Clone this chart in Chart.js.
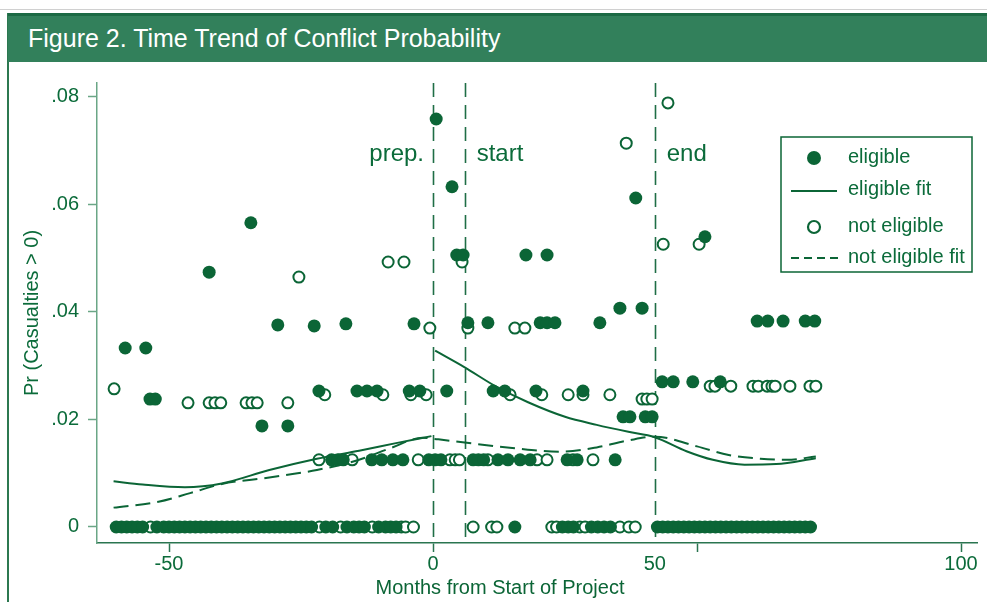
<!DOCTYPE html>
<html>
<head>
<meta charset="utf-8">
<script src="https://cdn.jsdelivr.net/npm/chart.js@4.4.0/dist/chart.umd.min.js"></script>
<style>
html,body{margin:0;padding:0;background:#fff;}
#wrap{position:relative;width:987px;height:602px;overflow:hidden;background:#fff;}
#topline{position:absolute;left:0;top:9px;width:987px;height:1px;background:#d0d0d0;}
#bar{position:absolute;left:8px;top:13px;width:979px;height:49px;background:#32805b;border-top:3px solid #1c6a44;box-sizing:border-box;color:#fff;font:25px 'Liberation Sans',Arial,sans-serif;line-height:45px;padding-left:20px;white-space:nowrap;}
#frame{position:absolute;left:7px;top:13px;width:2px;height:589px;background:#2c7850;}
#xtitle{position:absolute;left:300px;width:400px;top:575px;text-align:center;font:20px 'Liberation Sans',Arial,sans-serif;line-height:24px;color:#0b6536;}
#c{position:absolute;left:0;top:0;}
</style>
</head>
<body>
<div id="wrap">
  <canvas id="c" width="987" height="602"></canvas>
  <div id="topline"></div>
  <div id="frame"></div>
  <div id="bar">Figure 2. Time Trend of Conflict Probability</div>
  <div id="xtitle">Months from Start of Project</div>
</div>
<script>
// ---------- DATA ----------
const xTickValues = [-50, 0, 42, 50, 100];
const xTickLabels = ['-50', '0', '50', '', '100'];
const yTickValues = [0, 0.02, 0.04, 0.06, 0.08];
const yTickLabels = ['0', '.02', '.04', '.06', '.08'];

const phaseMonths = [0, 6, 42];
const phaseLabels = ['prep.', 'start', 'end'];

const legendLabels = ['eligible', 'eligible fit', 'not eligible', 'not eligible fit'];

// eligible, non-zero probabilities [month, Pr]
const eligiblePoints = [
  [-58.3,0.0333],[-54.4,0.0333],[-53.6,0.0238],[-52.6,0.0238],[-42.4,0.0474],[-34.5,0.0566],
  [-32.4,0.0188],[-29.4,0.0376],[-27.5,0.0188],[-22.5,0.0374],[-21.6,0.0253],[-16.5,0.0378],
  [-14.4,0.0253],[-12.5,0.0253],[-10.6,0.0253],[-4.5,0.0253],[-3.6,0.0378],[-2.5,0.0253],
  [-19.2,0.0125],[-18,0.0125],[-17,0.0125],[-11.6,0.0125],[-9.7,0.0125],[-7.6,0.0125],[-5.7,0.0125],
  [-0.8,0.0125],[0.4,0.0125],[1.5,0.0125],
  [0.6,0.0759],[3.6,0.0633],[4.5,0.0506],[5.7,0.0506],[17.6,0.0506],[21.6,0.0506],[38.4,0.0612],[51.5,0.054],
  [35.4,0.0407],[39.6,0.0407],[31.6,0.038],[20.3,0.038],[21.6,0.038],[23.1,0.038],[10.4,0.038],[6.6,0.038],
  [2.6,0.0253],[11.4,0.0253],[13.6,0.0253],[19.5,0.0253],[28.4,0.0253],
  [36,0.0205],[37.3,0.0205],[40.2,0.0205],[41.5,0.0205],
  [7.6,0.0125],[8.6,0.0125],[9.6,0.0125],[12.3,0.0125],[14.2,0.0125],[16.5,0.0125],[18.4,0.0125],
  [25.4,0.0125],[27.3,0.0125],[34.5,0.0125],
  [43.4,0.027],[45.5,0.027],[49.2,0.027],[54.4,0.027],
  [61.4,0.0383],[63.4,0.0383],[66.3,0.0383],[70.5,0.0383],[72.3,0.0383]
];
// eligible months with Pr = 0
const eligibleZeroMonths = [
  -60,-59,-58,-57,-56,-55,-52.3,-51,-50,-49,-48,-47,-46,-45,-44,-43,-42,-41,-40,-39,-38,-37,-36,
  -35,-34,-33,-32,-31,-30,-29,-28,-27,-26,-25,-24,-23,-20.3,-19,-16.3,-15,-14,-13,-10.3,-9,-8,-7,
  15.5,24.5,25.6,26.6,30,31.2,32.4,33.6,
  42.5,43.5,44.5,45.5,46.5,47.5,48.5,49.5,50.5,51.5,52.5,53.5,54.5,55.5,56.5,57.5,58.5,
  59.5,60.5,61.5,62.5,63.5,64.5,65.5,66.5,67.5,68.5,69.5,70.5,71.5
];
// not eligible, non-zero probabilities [month, Pr]
const notEligiblePoints = [
  [-60.4,0.0257],[-46.4,0.0231],[-42.4,0.0231],[-41.3,0.0231],[-40.2,0.0231],[-35.4,0.0231],
  [-34.3,0.0231],[-33.3,0.0231],[-27.5,0.0231],
  [-20.5,0.0246],[-9.5,0.0246],[-4.2,0.0246],[-1.3,0.0246],[-0.6,0.037],
  [-25.4,0.0465],[-8.5,0.0493],[-5.5,0.0493],[5.5,0.0493],[36.6,0.0714],[44.5,0.0789],[43.6,0.0526],[50.4,0.0526],
  [6.6,0.037],[15.5,0.037],[17.4,0.037],
  [14.6,0.0246],[20.6,0.0246],[25.6,0.0246],[28.4,0.0246],[33.5,0.0246],
  [39.6,0.0238],[40.5,0.0238],[41.5,0.0238],
  [52.5,0.0262],[53.4,0.0262],[56.4,0.0262],[60.6,0.0262],[61.6,0.0262],[63.3,0.0262],[64.2,0.0262],
  [64.8,0.0262],[67.6,0.0262],[71.4,0.0262],[72.5,0.0262],
  [-21.6,0.0125],[-15.3,0.0125],[-2.8,0.0125],[3.2,0.0125],[4.2,0.0125],[5,0.0125],[10.4,0.0125],
  [19.7,0.0125],[21.6,0.0125],[26.5,0.0125],[30.3,0.0125]
];
// not eligible months with Pr = 0
const notEligibleZeroMonths = [-53.5,-21.5,-17.5,-11.5,-6,-5.2,-3.7,7.6,11.1,12.1,22.5,23.4,27.8,28.8,35.4,37.1,38.3];

// smoothed fits [month, Pr]
const eligibleFitPre = [[-60.5,0.0085],[-55,0.0079],[-47,0.0074],[-40,0.0081],[-31,0.0106],[-22,0.0127],[-14,0.0142],[-7,0.0156],[-0.3,0.0169]];
const eligibleFitPost = [[0.4,0.0328],[6,0.0297],[12,0.0261],[18,0.0232],[25,0.0205],[31,0.019],[37,0.0177],[42,0.0167],[48,0.0141],[53,0.0125],[59,0.0116],[65,0.0117],[72.5,0.0128]];
const notEligibleFit = [[-60.5,0.0036],[-52,0.0047],[-46,0.0063],[-40,0.008],[-31,0.0092],[-22,0.0106],[-14,0.0125],[-8,0.0147],[-2,0.0166],[1,0.0163],[6,0.0157],[15,0.0147],[24,0.014],[31,0.0148],[37,0.0161],[42,0.0168],[50,0.015],[56,0.0134],[62,0.0127],[67,0.0125],[72.5,0.0131]];

// ---------- STYLE ----------
const GREEN = '#0b6536';
const TEXT_GREEN = '#0b6b3a';
const AXIS_LIGHT = '#6aa686';
const AXIS_DARK = '#2a7550';
const FONT = "'Liberation Sans', Arial, sans-serif";
Chart.defaults.font.family = FONT;

const toXY = arr => arr.map(([x, y]) => ({x, y}));
const zeros = arr => arr.map(x => ({x, y: 0}));

const phasePlugin = {
  id: 'phases',
  beforeDatasetsDraw(chart) {
    const {ctx, chartArea, scales} = chart;
    const x = scales.x;
    ctx.save();
    ctx.strokeStyle = '#1f6e46';
    ctx.lineWidth = 1.6;
    ctx.setLineDash([14, 8]);
    phaseMonths.forEach(m => {
      const px = Math.round(x.getPixelForValue(m)) + 0.5;
      ctx.beginPath();
      ctx.moveTo(px, chartArea.top);
      ctx.lineTo(px, chartArea.bottom);
      ctx.stroke();
    });
    ctx.setLineDash([]);
    ctx.font = '24px ' + FONT;
    ctx.fillStyle = TEXT_GREEN;
    ctx.textBaseline = 'alphabetic';
    phaseLabels.forEach((t, i) => {
      const px = x.getPixelForValue(phaseMonths[i]);
      if (i === 0) { ctx.textAlign = 'right'; ctx.fillText(t, px - 9, 161); }
      else { ctx.textAlign = 'left'; ctx.fillText(t, px + 12, 161); }
    });
    ctx.restore();
  }
};

const legendPlugin = {
  id: 'boxLegend',
  afterDraw(chart) {
    const ctx = chart.ctx;
    ctx.save();
    ctx.strokeStyle = GREEN;
    ctx.lineWidth = 1.5;
    ctx.strokeRect(781, 137, 191, 135);
    ctx.font = '20px ' + FONT;
    ctx.fillStyle = TEXT_GREEN;
    ctx.textAlign = 'left';
    ctx.textBaseline = 'alphabetic';
    const rows = [163, 195, 232, 263];
    legendLabels.forEach((t, i) => ctx.fillText(t, 848, rows[i]));
    ctx.fillStyle = GREEN;
    ctx.beginPath(); ctx.arc(814, 158, 7, 0, Math.PI * 2); ctx.fill();
    ctx.lineWidth = 2.2;
    ctx.beginPath(); ctx.moveTo(791, 191); ctx.lineTo(837, 191); ctx.stroke();
    ctx.beginPath(); ctx.arc(814, 227, 6, 0, Math.PI * 2); ctx.fillStyle = '#fff'; ctx.fill(); ctx.lineWidth = 2.2; ctx.stroke();
    ctx.setLineDash([8, 5]);
    ctx.lineWidth = 2;
    ctx.beginPath(); ctx.moveTo(791, 258); ctx.lineTo(840, 258); ctx.stroke();
    ctx.restore();
  }
};

new Chart(document.getElementById('c'), {
  type: 'scatter',
  data: {
    datasets: [
      {label: 'eligible fit', type: 'line', data: toXY(eligibleFitPre), borderColor: GREEN, borderWidth: 2,
       pointRadius: 0, fill: false, cubicInterpolationMode: 'monotone', order: 0},
      {label: 'eligible fit post', type: 'line', data: toXY(eligibleFitPost), borderColor: GREEN, borderWidth: 2,
       pointRadius: 0, fill: false, cubicInterpolationMode: 'monotone', order: 0},
      {label: 'not eligible fit', type: 'line', data: toXY(notEligibleFit), borderColor: GREEN, borderWidth: 2,
       borderDash: [15, 7], pointRadius: 0, fill: false, cubicInterpolationMode: 'monotone', order: 0},
      {label: 'eligible', data: toXY(eligiblePoints).concat(zeros(eligibleZeroMonths)),
       backgroundColor: GREEN, borderColor: GREEN, borderWidth: 0, pointRadius: 6.5, order: 1},
      {label: 'not eligible', data: toXY(notEligiblePoints).concat(zeros(notEligibleZeroMonths)),
       backgroundColor: '#fff', borderColor: GREEN, borderWidth: 2, pointRadius: 5.5, order: 2}
    ]
  },
  options: {
    responsive: false,
    animation: false,
    events: [],
    layout: {padding: {left: 0, top: 83, right: 10, bottom: 0}},
    plugins: {legend: {display: false}, tooltip: {enabled: false}},
    scales: {
      x: {
        type: 'linear', min: -63.64, max: 103.03,
        afterBuildTicks: s => { s.ticks = xTickValues.map(v => ({value: v})); },
        afterFit: s => { s.height = 59; },
        ticks: {
          autoSkip: false, maxRotation: 0, padding: 0, color: TEXT_GREEN, font: {size: 20},
          callback: v => { const i = xTickValues.indexOf(v); return i >= 0 ? xTickLabels[i] : ''; }
        },
        grid: {drawOnChartArea: false, drawTicks: true, tickLength: 9, tickWidth: 1.5,
               tickColor: c => (c.tick && c.tick.value === 42) ? 'rgba(0,0,0,0)' : AXIS_DARK},
        border: {color: AXIS_DARK, width: 1.5}
      },
      y: {
        min: -0.00298, max: 0.0826,
        afterBuildTicks: s => { s.ticks = yTickValues.map(v => ({value: v})); },
        afterFit: s => { s.width = 97; },
        title: {display: true, text: 'Pr (Casualties > 0)', color: TEXT_GREEN, font: {size: 20}, padding: {top: 20, bottom: 0}},
        ticks: {
          padding: 9, color: TEXT_GREEN, font: {size: 20},
          callback: v => { const i = yTickValues.indexOf(v); return i >= 0 ? yTickLabels[i] : ''; }
        },
        grid: {drawOnChartArea: false, drawTicks: true, tickLength: 9, tickWidth: 1.5, tickColor: AXIS_LIGHT},
        border: {color: AXIS_LIGHT, width: 1.5}
      }
    }
  },
  plugins: [phasePlugin, legendPlugin]
});
</script>
</body>
</html>
